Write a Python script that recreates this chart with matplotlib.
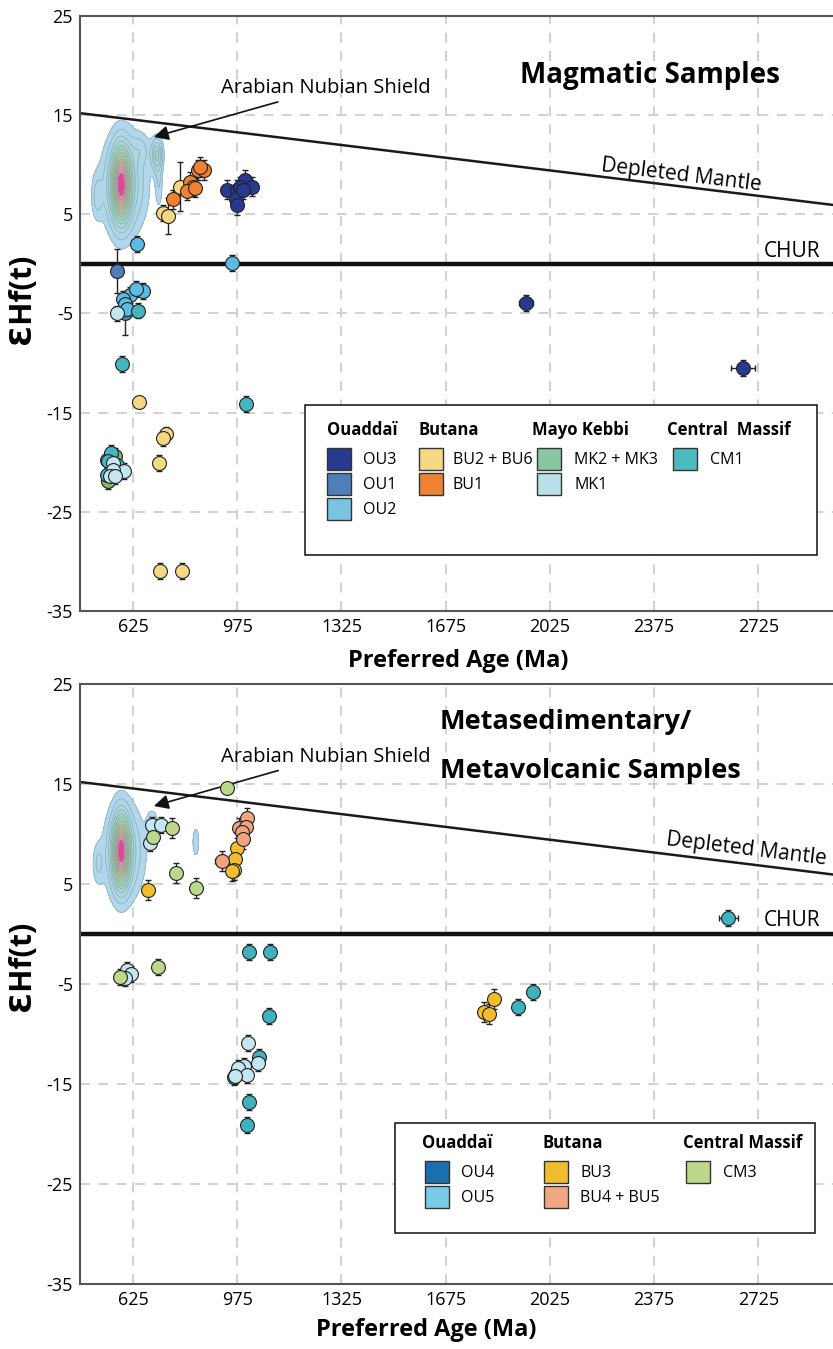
import numpy as np
import matplotlib
matplotlib.use("Agg")
import matplotlib.pyplot as plt
from matplotlib.patches import Rectangle
from matplotlib.colors import LinearSegmentedColormap

plt.rcParams['font.family'] = ['Open Sans', 'DejaVu Sans']
plt.rcParams['axes.unicode_minus'] = False

W, H = 833, 1349

# ---------------- data: magmatic samples (top) ----------------
top_series = {
    'OU3': dict(color='#283a8f',
                age=[941, 974, 1000, 1023, 985, 970, 974, 994, 1945, 2675],
                eps=[7.5, 7.5, 8.5, 7.8, 7.8, 6.5, 5.9, 7.5, -3.9, -10.5],
                yerr=[1, 1, 1, 1, 1, 1, 1, 1, 0.8, 0.8],
                xerr=[0, 0, 0, 0, 0, 0, 0, 0, 25, 40]),
    'OU1': dict(color='#4f7fb8', age=[570, 599], eps=[-0.7, -5.0],
                yerr=[2.2, 2.2], xerr=[0, 0]),
    'OU2': dict(color='#5cbbe3',
                age=[637, 958, 660, 615, 635, 593, 598, 604],
                eps=[2.0, 0.1, -2.7, -3.1, -2.5, -3.5, -4.0, -4.5],
                yerr=[0.8] * 8, xerr=[0] * 8),
    'BU2 + BU6': dict(color='#f6d784',
                      age=[782, 727, 743, 646, 736, 727, 711, 715, 791],
                      eps=[7.8, 5.1, 4.8, -13.9, -17.2, -17.6, -20.1, -31.0, -31.0],
                      yerr=[2.5, 0.8, 1.8, 0, 0.8, 0.8, 0.8, 0.8, 0.8],
                      xerr=[0] * 9),
    'BU1': dict(color='#ee8232',
                age=[758, 816, 825, 805, 833, 844, 863, 850],
                eps=[6.5, 8.3, 7.8, 7.4, 7.7, 9.5, 9.5, 9.8],
                yerr=[1.0] * 8, xerr=[0] * 8),
    'MK2 + MK3': dict(color='#7fb85e', age=[537, 565, 542],
                      eps=[-19.8, -19.4, -21.9], yerr=[0.8] * 3, xerr=[0] * 3),
    'CM1': dict(color='#45b5bf',
                age=[643, 587, 1003, 550, 542, 570, 537],
                eps=[-4.7, -10.1, -14.1, -19.1, -19.9, -20.3, -21.3],
                yerr=[0.8] * 7, xerr=[0] * 7),
    'MK1': dict(color='#c3e6f1',
                age=[570, 557, 595, 559, 548, 565],
                eps=[-5.0, -20.1, -20.9, -20.8, -21.4, -21.4],
                yerr=[0.8] * 6, xerr=[0] * 6),
}

# ---------------- data: metasedimentary / metavolcanic (bottom) ----------------
bot_series = {
    'OU4': dict(color='#3fb2bd',
                age=[1016, 1086, 1081, 1047, 971, 963, 1013, 1008, 1918, 1968, 2625],
                eps=[-1.8, -1.8, -8.2, -12.3, -14.0, -14.3, -16.8, -19.1, -7.3, -5.8, 1.6],
                yerr=[0.8] * 11,
                xerr=[0, 0, 0, 0, 0, 0, 15, 0, 15, 15, 32]),
    'OU5': dict(color='#c3e6f2',
                age=[688, 718, 681, 606, 617, 598, 1012, 1045, 997, 978, 1008, 969],
                eps=[10.9, 10.9, 9.1, -3.6, -4.0, -4.4, -10.9, -12.9, -13.2, -13.4, -14.1, -14.2],
                yerr=[0.8] * 12, xerr=[0] * 12),
    'BU3': dict(color='#f2bd2d',
                age=[676, 974, 967, 963, 958, 1804, 1821, 1838],
                eps=[4.4, 8.6, 7.5, 6.4, 6.3, -7.8, -8.0, -6.5],
                yerr=[1.0] * 8, xerr=[0] * 8),
    'BU4 + BU5': dict(color='#f0a47e',
                      age=[1008, 980, 1006, 991, 995, 924],
                      eps=[11.6, 10.6, 10.7, 10.2, 9.5, 7.3],
                      yerr=[1.0] * 6, xerr=[0, 0, 15, 0, 10, 25]),
    'CM3': dict(color='#bcd88a',
                age=[941, 692, 755, 770, 835, 709, 580],
                eps=[14.6, 9.7, 10.6, 6.1, 4.6, -3.3, -4.3],
                yerr=[0, 1, 1, 1, 1, 0.8, 0.8], xerr=[0] * 7),
}

# Arabian Nubian Shield density: (age, eps, sd_age, sd_eps, weight)
ans_top = [(585, 8.0, 20, 2.3, 1.0), (595, 8.0, 45, 3.0, 0.28),
           (505, 6.8, 12, 1.4, 0.12), (705, 11.0, 12, 1.0, 0.35),
           (712, 8.5, 8, 1.8, 0.10), (650, 11.5, 20, 1.0, 0.10),
           (850, 9.8, 10, 0.8, 0.05)]
ans_bot = [(585, 8.3, 18, 2.2, 1.0), (595, 8.2, 40, 2.8, 0.25),
           (508, 7.0, 12, 1.3, 0.10), (690, 10.6, 12, 1.0, 0.16),
           (836, 9.2, 10, 1.3, 0.07)]

# legends: groups of (header, [(label, swatch colour)])
top_legend = [('Ouaddaï', [('OU3', '#283a8f'), ('OU1', '#4f7fb8'), ('OU2', '#79c4e3')]),
              ('Butana', [('BU2 + BU6', '#f6d784'), ('BU1', '#ee8232')]),
              ('Mayo Kebbi', [('MK2 + MK3', '#86c7a2'), ('MK1', '#b8e0e6')]),
              ('Central  Massif', [('CM1', '#4cb8c0')])]
bot_legend = [('Ouaddaï', [('OU4', '#1a6fae'), ('OU5', '#79cbe8')]),
              ('Butana', [('BU3', '#f2bd2d'), ('BU4 + BU5', '#f0a882')]),
              ('Central Massif', [('CM3', '#bcd88a')])]

xticks = [625, 975, 1325, 1675, 2025, 2375, 2725]
yticks = [25, 15, 5, -5, -15, -25, -35]


def dm(age):
    return 16.84 - 0.00366 * np.asarray(age)


kde_cmap = LinearSegmentedColormap.from_list(
    'ans', ['#a9d3ea', '#a4d3e0', '#9ccfc0', '#a3c9a0', '#b3b88f', '#c2a58a', '#d98aa0', '#e8007f'])


def draw_panel(ax, series, comps):
    ax.set_xlim(447, 2976)
    ax.set_ylim(-35, 25)
    ax.set_xticks(xticks)
    ax.set_yticks(yticks)
    ax.grid(True, color='#c8cbcb', linestyle=(0, (6, 5)), linewidth=1.2)
    ax.set_axisbelow(True)
    ax.tick_params(length=0, labelsize=13, pad=5)
    for s in ['left', 'bottom', 'top']:
        ax.spines[s].set_color('#555555')
        ax.spines[s].set_linewidth(1.5)
    ax.spines['right'].set_visible(False)

    # density contours
    gx, gy = np.meshgrid(np.linspace(440, 920, 300), np.linspace(-2, 18, 300))
    z = np.zeros_like(gx)
    for a, e, sa, se, w in comps:
        z += w * np.exp(-0.5 * (((gx - a) / sa) ** 2 + ((gy - e) / se) ** 2))
    z /= z.max()
    levels = [0.035, 0.08, 0.14, 0.2, 0.27, 0.34, 0.42, 0.5, 0.58, 0.66, 0.74, 0.82, 0.9, 1.0]
    ax.contourf(gx, gy, z, levels=levels, cmap=kde_cmap, alpha=0.9, zorder=1)
    ax.contour(gx, gy, z, levels=levels[:-1], colors='#7f9fa3', linewidths=0.5,
               alpha=0.7, zorder=1)

    x = np.array(ax.get_xlim())
    ax.plot(x, dm(x), color='#1a1a1a', lw=1.8, zorder=2)
    ax.axhline(0, color='#111111', lw=3.2, zorder=2)

    for name, d in series.items():
        ax.errorbar(d['age'], d['eps'], yerr=d['yerr'], xerr=d['xerr'], fmt='none',
                    ecolor='#222222', elinewidth=1.0, capsize=2.5, capthick=1.0, zorder=3)
        ax.scatter(d['age'], d['eps'], s=100, color=d['color'], edgecolor='#222222',
                   linewidth=0.8, zorder=4)


def fx(px):
    return px / W


def fy(py):
    return 1 - py / H


def draw_legend(fig, box, groups, col_x, row0, swatch_x, label_x, head_y, row_h):
    x0, y0, x1, y1 = box
    fig.add_artist(Rectangle((fx(x0), fy(y1)), fx(x1) - fx(x0), fy(y0) - fy(y1),
                             transform=fig.transFigure, facecolor='white',
                             edgecolor='#222222', lw=1.2, zorder=5))
    for gi, (head, items) in enumerate(groups):
        fig.text(fx(col_x[gi]), fy(head_y), head, fontsize=12, fontweight='bold',
                 va='center', ha='left', zorder=6)
        for ii, (lab, col) in enumerate(items):
            top = row0 + ii * row_h
            fig.add_artist(Rectangle((fx(swatch_x[gi]), fy(top + 22)), 24 / W, 22 / H,
                                     transform=fig.transFigure, facecolor=col,
                                     edgecolor='#333333', lw=1.0, zorder=6))
            fig.text(fx(label_x[gi]), fy(top + 12), lab, fontsize=11.5,
                     va='center', ha='left', zorder=6)


fig = plt.figure(figsize=(W / 100, H / 100), dpi=100)
ax1 = fig.add_axes([fx(80), fy(611), 753 / W, 595 / H])
ax2 = fig.add_axes([fx(80), fy(1284), 753 / W, 600 / H])

draw_panel(ax1, top_series, ans_top)
draw_panel(ax2, bot_series, ans_bot)

for ax in (ax1, ax2):
    ax.annotate('Arabian Nubian Shield', xy=(695, 12.8), xytext=(920, 17.7),
                fontsize=14.5, va='center', ha='left',
                arrowprops=dict(arrowstyle='-|>', color='#111111', lw=1.2,
                                mutation_scale=22, shrinkA=2, shrinkB=0))
    ax.text(2742, 1.3, 'CHUR', fontsize=15, va='center', ha='left')

# depleted mantle labels along the line
ang = np.degrees(np.arctan2(92, 753))
ax1.text(2467, 8.9, 'Depleted Mantle', fontsize=15, rotation=-ang,
         rotation_mode='anchor', ha='center', va='center')
ax2.text(2685, 8.5, 'Depleted Mantle', fontsize=15, rotation=-ang,
         rotation_mode='anchor', ha='center', va='center')

fig.text(fx(458), fy(661), 'Preferred Age (Ma)', fontsize=17, fontweight='bold',
         ha='center', va='center')
fig.text(fx(426), fy(1330), 'Preferred Age (Ma)', fontsize=17, fontweight='bold',
         ha='center', va='center')

fig.text(fx(22), fy(299), 'ƐHf(t)', rotation=90, fontsize=22, fontweight='bold',
         ha='center', va='center')
fig.text(fx(22), fy(966), 'ƐHf(t)', rotation=90, fontsize=22, fontweight='bold',
         ha='center', va='center')

fig.text(fx(650), fy(75), 'Magmatic Samples', fontsize=20, fontweight='bold',
         ha='center', va='center')
fig.text(fx(440), fy(722), 'Metasedimentary/', fontsize=19.5, fontweight='bold',
         ha='left', va='center')
fig.text(fx(440), fy(771), 'Metavolcanic Samples', fontsize=19.5, fontweight='bold',
         ha='left', va='center')

draw_legend(fig, (305, 405, 817, 555), top_legend,
            col_x=[327, 418, 532, 667], row0=448, swatch_x=[327, 419, 537, 673],
            label_x=[363, 453, 574, 710], head_y=430, row_h=25)
draw_legend(fig, (395, 1123, 815, 1233), bot_legend,
            col_x=[422, 543, 683], row0=1161, swatch_x=[425, 544, 686],
            label_x=[461, 580, 723], head_y=1143, row_h=25)

fig.savefig('out.png', dpi=100)
